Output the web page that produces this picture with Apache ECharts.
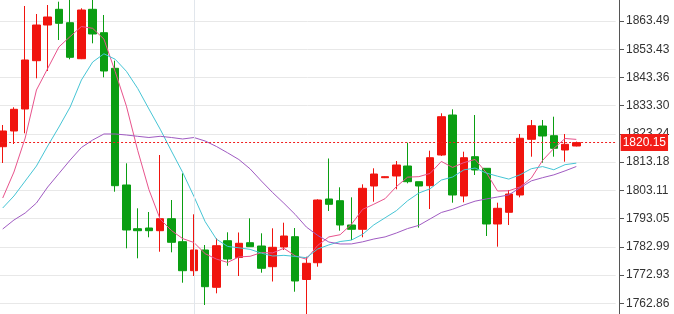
<!DOCTYPE html>
<html>
<head>
<meta charset="utf-8">
<script src="https://cdn.jsdelivr.net/npm/echarts@6/dist/echarts.min.js"></script>
<style>
html,body{margin:0;padding:0;background:#ffffff;}
#chart{width:674px;height:314px;}
</style>
</head>
<body>
<div id="chart"></div>
<script>
// ---- data ----
const categories = ['1','2','3','4','5','6','7','8','9','10','11','12','13','14','15','16','17','18','19','20',
  '21','22','23','24','25','26','27','28','29','30','31','32','33','34','35','36','37','38','39','40',
  '41','42','43','44','45','46','47','48','49','50','51','52','53','54','55'];

const opens = [1818.68,1824.28,1832.12,1849.34,1862.06,1867.66,1862.88,1850.05,1867.66,1859.32,
  1846.63,1805.03,1789.45,1789.70,1788.74,1793.02,1784.82,1774.48,1781.86,1768.56,
  1785.17,1779.18,1784.46,1783.28,1775.91,1782.93,1786.60,1771.34,1777.33,1800.04,
  1799.43,1790.77,1789.24,1804.67,1807.63,1808.24,1811.80,1806.21,1804.78,1815.72,
  1829.98,1801.11,1815.12,1810.98,1791.13,1795.30,1801.46,1821.32,1826.06,1822.60,
  1817.51,1818.93];
const closes = [1824.28,1832.01,1849.59,1862.06,1864.92,1862.67,1850.55,1867.41,1858.86,1845.67,
  1804.78,1788.99,1788.74,1788.74,1793.02,1784.60,1774.48,1781.86,1768.78,1783.39,
  1778.65,1784.25,1783.04,1775.34,1782.82,1786.85,1770.81,1777.12,1799.68,1798.15,
  1790.77,1789.24,1803.85,1808.95,1807.99,1812.16,1806.21,1804.67,1814.76,1829.38,
  1801.46,1814.76,1810.38,1791.13,1796.72,1801.82,1821.68,1826.17,1822.50,1818.11,
  1819.54,1820.15];
const lows = [1812.87,1819.64,1823.46,1843.06,1845.67,1856.72,1849.84,1849.90,1855.54,1843.42,
  1802.64,1782.46,1778.90,1786.39,1781.25,1781.04,1770.20,1772.59,1762.25,1766.42,
  1776.26,1772.59,1783.00,1773.77,1770.63,1781.86,1766.99,1756.91,1775.91,1795.76,
  1788.74,1785.42,1786.39,1799.08,1807.50,1803.50,1805.63,1789.81,1796.47,1815.37,
  1798.72,1798.86,1808.59,1786.85,1783.04,1790.77,1800.64,1815.12,1812.98,1815.12,
  1813.33,1818.80];
const highs = [1826.42,1832.73,1868.84,1865.99,1869.19,1870.37,1872.50,1868.02,1871.50,1865.63,
  1849.34,1812.76,1796.72,1795.40,1815.72,1799.68,1809.20,1794.58,1783.64,1786.03,
  1788.17,1788.10,1793.16,1787.81,1789.59,1791.59,1789.70,1779.47,1799.93,1814.48,
  1804.21,1800.64,1805.28,1810.98,1808.10,1813.58,1820.11,1806.21,1817.26,1830.59,
  1832.01,1816.90,1829.98,1811.00,1798.72,1803.25,1823.21,1828.20,1828.20,1829.38,
  1823.21,1820.50];

const ma5 = [1800.39,1809.66,1821.78,1838.89,1846.57,1854.25,1857.96,1861.52,1860.88,1857.03,
  1845.45,1833.14,1817.41,1803.38,1792.85,1788.82,1785.92,1784.54,1780.55,1778.62,
  1777.43,1779.39,1779.62,1780.93,1780.82,1782.46,1779.77,1778.59,1783.46,1786.52,
  1787.31,1790.99,1796.34,1798.19,1800.16,1804.44,1807.83,1808.00,1809.16,1813.44,
  1811.30,1813.01,1814.15,1809.42,1802.89,1802.96,1804.35,1807.50,1813.78,1818.06,
  1821.60,1821.29];
const ma10 = [1796.83,1801.11,1806.45,1811.80,1818.93,1825.70,1832.83,1842.46,1848.87,1851.80,
  1849.85,1845.55,1839.47,1832.13,1824.94,1817.14,1809.53,1800.97,1791.97,1785.74,
  1783.13,1782.65,1782.08,1780.74,1779.72,1779.95,1779.58,1779.11,1782.20,1783.67,
  1784.88,1785.38,1787.46,1790.82,1793.34,1795.87,1799.41,1802.17,1803.68,1806.80,
  1807.87,1810.42,1811.07,1809.29,1808.16,1807.13,1808.68,1810.83,1811.60,1810.47,
  1812.28,1812.82];
const ma20 = [1789.34,1792.55,1795.05,1798.61,1804.31,1809.13,1813.94,1818.40,1821.07,1823.21,
  1823.21,1822.85,1822.39,1821.96,1822.39,1821.96,1821.43,1821.96,1820.71,1818.77,
  1816.49,1814.10,1810.77,1806.44,1802.33,1798.54,1794.55,1790.04,1787.08,1784.70,
  1784.00,1784.02,1784.77,1785.78,1786.53,1787.91,1789.50,1790.64,1792.94,1795.23,
  1796.38,1797.90,1799.27,1800.06,1800.75,1801.50,1804.04,1806.50,1807.64,1808.64,
  1810.07,1811.62];

const tickLabels = ['1762.86','1772.93','1782.99','1793.05','1803.11','1813.18','1823.24','1833.30','1843.36','1853.43','1863.49'];
const lastPrice = 1820.15;
const lastPriceText = '1820.15';
const gridCategory = '18';

// ---- styling ----
const RED = '#f0140e';
const GREEN = '#0a9e12';
const tickVals = tickLabels.map(Number);
const lo = tickVals[0], hi = tickVals[tickVals.length - 1];
const step = (hi - lo) / (tickVals.length - 1);

const candleData = opens.map((o, i) => [o, closes[i], lows[i], highs[i]]);

const chart = echarts.init(document.getElementById('chart'), null, {renderer: 'canvas'});
chart.setOption({
  animation: false,
  backgroundColor: '#ffffff',
  grid: {left: -2.92, right: 58.33, top: -7.23, bottom: -17.53, containLabel: false, outerBoundsMode: 'none'},
  xAxis: {
    type: 'category',
    data: categories,
    boundaryGap: true,
    show: false
  },
  yAxis: {
    type: 'value',
    position: 'right',
    offset: 3.33,
    min: lo - step,
    max: hi + step,
    interval: step,
    axisLine: {show: true, lineStyle: {color: '#555555', width: 1}},
    axisTick: {show: true, length: 5, lineStyle: {color: '#555555'}},
    axisLabel: {
      margin: 7,
      color: '#333333',
      fontSize: 12,
      fontFamily: 'Liberation Sans',
      showMinLabel: false,
      showMaxLabel: false,
      formatter: function (v) {
        let best = '', d = 1e9;
        tickVals.forEach((t, k) => { const dd = Math.abs(t - v); if (dd < d) { d = dd; best = tickLabels[k]; } });
        return d < 1 ? best : '';
      }
    },
    splitLine: {show: true, lineStyle: {color: '#e8e8e8', width: 1}}
  },
  series: [
    {
      type: 'candlestick',
      data: candleData,
      barWidth: 8,
      itemStyle: {color: RED, color0: GREEN, borderColor: RED, borderColor0: GREEN, borderWidth: 1},
      markLine: {
        silent: true,
        animation: false,
        symbol: ['none', 'none'],
        data: [
          {xAxis: gridCategory, lineStyle: {color: '#e1e6ec', type: 'solid', width: 1}, label: {show: false}},
          {
            yAxis: lastPrice,
            lineStyle: {color: '#f01e1e', type: [2, 2], width: 1},
            label: {
              show: true, position: 'end', distance: 5,
              formatter: lastPriceText,
              color: '#ffffff', backgroundColor: '#f21d17',
              padding: [3, 2, 2, 2], fontSize: 12, fontFamily: 'Liberation Sans'
            }
          }
        ]
      }
    },
    {type: 'line', data: ma5, symbol: 'none', showSymbol: false, lineStyle: {width: 1, color: '#e8538c'}, itemStyle: {color: '#e8538c'}},
    {type: 'line', data: ma10, symbol: 'none', showSymbol: false, lineStyle: {width: 1, color: '#46c5d5'}, itemStyle: {color: '#46c5d5'}},
    {type: 'line', data: ma20, symbol: 'none', showSymbol: false, lineStyle: {width: 1, color: '#a05bc2'}, itemStyle: {color: '#a05bc2'}}
  ]
});
</script>
</body>
</html>
